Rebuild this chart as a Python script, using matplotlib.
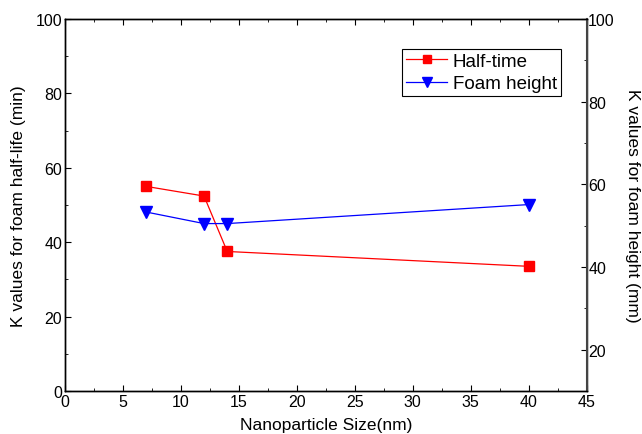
import matplotlib.pyplot as plt
from matplotlib.ticker import MultipleLocator

plt.rcParams["font.family"] = ["Liberation Sans", "DejaVu Sans"]

size_nm = [7, 12, 14, 40]
half_time_k = [55.0, 52.4, 37.5, 33.5]
foam_height_k = [53.3, 50.5, 50.5, 55.1]

fig = plt.figure(figsize=(6.42, 4.35), dpi=100)
ax = fig.add_axes([0.101, 0.099, 0.813, 0.855])
ax2 = ax.twinx()

(l1,) = ax.plot(size_nm, half_time_k, color="red", marker="s", markersize=6.5,
                linewidth=0.9, label="Half-time")
(l2,) = ax2.plot(size_nm, foam_height_k, color="blue", marker="v", markersize=9,
                 linewidth=0.9, label="Foam height")

ax.set_xlim(0, 45)
ax.set_ylim(0, 100)
ax2.set_ylim(10, 100)

ax.xaxis.set_major_locator(MultipleLocator(5))
ax.xaxis.set_minor_locator(MultipleLocator(2.5))
ax.yaxis.set_major_locator(MultipleLocator(20))
ax.yaxis.set_minor_locator(MultipleLocator(10))
ax2.yaxis.set_major_locator(MultipleLocator(20))
ax2.yaxis.set_minor_locator(MultipleLocator(10))

ax.tick_params(axis="both", which="both", direction="in", top=True, labelsize=11.5, pad=2)
ax.tick_params(which="major", length=4)
ax.tick_params(which="minor", length=2)
ax2.tick_params(axis="y", which="both", direction="in", labelsize=11.5, pad=1)
ax2.tick_params(which="major", length=4)
ax2.tick_params(which="minor", length=2)

for a in (ax, ax2):
    for s in a.spines.values():
        s.set_linewidth(1.0)
ax2.spines["right"].set_color("#444444")
ax2.spines["right"].set_linewidth(1.5)

ax.set_xlabel("Nanoparticle Size(nm)", fontsize=12.5, labelpad=6)
ax.set_ylabel("K values for foam half-life (min)", fontsize=12.5, labelpad=7)
ax2.set_ylabel("K values for foam height (mm)", fontsize=12.5, rotation=270, labelpad=18)

leg = ax.legend(handles=[l1, l2], loc="upper right", bbox_to_anchor=(0.95, 0.919),
                fontsize=13.5, fancybox=False, edgecolor="black", framealpha=1,
                borderpad=0.2, labelspacing=0.28, handlelength=2.2,
                handletextpad=0.3, borderaxespad=0, markerscale=0.85)
leg.get_frame().set_linewidth(0.8)

fig.savefig("out.png", dpi=100)
